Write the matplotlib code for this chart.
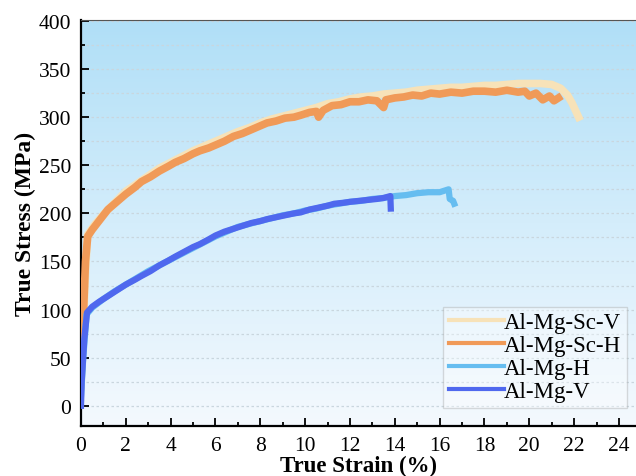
import numpy as np
import matplotlib
matplotlib.use("Agg")
import matplotlib.pyplot as plt
from matplotlib.colors import LinearSegmentedColormap
from matplotlib.ticker import MultipleLocator

# Al-Mg-Sc-V (drawn first, sits under the orange curve)
sc_v_strain = [0.0, 0.1, 0.2, 0.3, 0.6, 1.0, 1.5, 2.0, 2.5, 3.0, 3.5, 4.0, 4.5, 5.0, 5.5,
               6.0, 6.5, 7.0, 7.5, 8.0, 8.5, 9.0, 9.5, 10.0, 10.5, 11.0, 11.5, 12.0, 12.5,
               13.0, 13.5, 14.0, 14.5, 15.0, 15.5, 16.0, 16.5, 17.0, 17.5, 18.0, 18.5, 19.0,
               19.5, 20.0, 20.5, 21.0, 21.4, 21.7, 21.9, 22.1, 22.2]
sc_v_stress = [20, 80, 140, 178, 188, 199, 211, 223, 231, 239, 247, 253, 259, 265, 270,
               275, 280, 285, 289, 294, 298, 301, 304, 307, 310, 314, 316, 319, 321,
               322, 324, 325, 326, 328, 329, 330, 331, 331, 332, 333, 333, 334,
               335, 335, 335, 334, 330, 323, 315, 305, 300]

# Al-Mg-Sc-H
sc_h_strain = [0.0, 0.1, 0.2, 0.3, 0.5, 0.8, 1.2, 1.6, 2.0, 2.4, 2.7, 3.1, 3.5, 3.9, 4.2,
               4.6, 5.0, 5.3, 5.7, 6.0, 6.4, 6.8, 7.2, 7.6, 8.0, 8.3, 8.7, 9.1, 9.5, 9.8,
               10.2, 10.5, 10.6, 10.8, 11.2, 11.6, 12.0, 12.4, 12.8, 13.2, 13.5, 13.6, 14.0,
               14.4, 14.8, 15.2, 15.6, 16.0, 16.5, 17.0, 17.5, 18.0, 18.5, 19.0, 19.5, 19.8,
               20.0, 20.3, 20.6, 20.9, 21.1, 21.3]
sc_h_stress = [30, 90, 150, 176, 183, 192, 204, 212, 220, 227, 233, 238, 244, 249, 253,
               257, 262, 265, 268, 271, 275, 280, 283, 287, 291, 294, 296, 299, 300, 302,
               305, 306, 300, 307, 312, 313, 316, 316, 318, 317, 310, 318, 320,
               321, 323, 322, 325, 324, 326, 325, 327, 327, 326, 328, 326, 327,
               322, 325, 318, 322, 317, 320]

# Al-Mg-H
mg_h_strain = [0.0, 0.1, 0.25, 0.5, 1.0, 1.5, 2.0, 2.5, 3.0, 3.5, 4.0, 4.5, 5.0, 5.5, 6.0,
               6.5, 7.0, 7.5, 8.0, 8.5, 9.0, 9.5, 10.0, 10.5, 11.0, 11.5, 12.0, 12.5, 13.0,
               13.5, 14.0, 14.5, 15.0, 15.5, 16.0, 16.4, 16.45, 16.6, 16.65]
mg_h_stress = [10, 50, 95, 102, 111, 119, 126, 133, 140, 146, 152, 158, 164, 170, 176,
               181, 186, 189, 192, 195, 198, 200, 203, 205, 208, 210, 212, 213, 215,
               216, 218, 219, 221, 222, 222, 225, 215, 213, 210]

# Al-Mg-V
mg_v_strain = [0.0, 0.03, 0.15, 0.27, 0.5, 0.8, 1.2, 1.6, 2.0, 2.4, 2.7, 3.1, 3.5, 3.9, 4.2,
               4.6, 5.0, 5.3, 5.7, 6.0, 6.4, 6.8, 7.2, 7.6, 8.0, 8.3, 8.7, 9.1, 9.5, 9.8,
               10.2, 10.6, 11.0, 11.3, 11.7, 12.0, 12.4, 12.8, 13.2, 13.5, 13.8, 13.82]
mg_v_stress = [0, 25, 70, 97, 103, 108, 114, 120, 126, 131, 135, 140, 146, 151, 155,
               160, 165, 168, 173, 177, 181, 184, 187, 190, 192, 194, 196, 198, 200, 201,
               204, 206, 208, 210, 211, 212, 213, 214, 215, 216, 218, 205]

plt.rcParams['font.family'] = ['Liberation Serif', 'DejaVu Serif']

fig = plt.figure(figsize=(6.36, 4.77), dpi=100)
ax = fig.add_axes([81 / 636, 50 / 477, 555 / 636, 406 / 477])

# gradient background: light blue at top fading to near white
grad = LinearSegmentedColormap.from_list("bg", ["#f4f9fe", "#d4edfb", "#b0dff7"])
ax.imshow(np.linspace(0, 1, 256).reshape(-1, 1), cmap=grad, origin="lower",
          aspect="auto", extent=[0, 1, 0, 1], transform=ax.transAxes, zorder=0)

ax.plot(sc_v_strain, sc_v_stress, color="#f7e2b8", lw=5.5, label="Al-Mg-Sc-V", zorder=2)
ax.plot(sc_h_strain, sc_h_stress, color="#f09a58", lw=5.5, label="Al-Mg-Sc-H", zorder=3)
ax.plot(mg_h_strain, mg_h_stress, color="#66bdf0", lw=4.5, label="Al-Mg-H", zorder=4)
ax.plot(mg_v_strain, mg_v_stress, color="#4f68ee", lw=4.5, label="Al-Mg-V", zorder=5)

ax.set_xlim(0, 24.76)
ax.set_ylim(-21, 401)
ax.xaxis.set_major_locator(MultipleLocator(2))
ax.xaxis.set_minor_locator(MultipleLocator(1))
ax.yaxis.set_major_locator(MultipleLocator(50))
ax.yaxis.set_minor_locator(MultipleLocator(25))
ax.tick_params(which="both", direction="in", labelsize=15.5, width=1.3)
ax.tick_params(which="major", length=6)
ax.tick_params(which="minor", length=3)
ax.tick_params(axis="y", pad=7)
ax.tick_params(axis="x", pad=7)

ax.grid(True, which="both", axis="y", color="#c9d6de", ls=(0, (2, 2)), lw=0.9, zorder=1)

for s in ["left", "bottom"]:
    ax.spines[s].set_linewidth(1.6)
ax.spines["top"].set_color("#555555")
ax.spines["right"].set_visible(False)

ax.set_xlabel("True Strain (%)", fontsize=16.5, fontweight="bold", labelpad=0)
ax.set_ylabel("True Stress (MPa)", fontsize=17, fontweight="bold", labelpad=2)

leg = ax.legend(loc="lower right", bbox_to_anchor=(0.983, 0.045), fontsize=16.5,
                frameon=True, fancybox=False, edgecolor="#9a9a9a", framealpha=0.35,
                handlelength=2.4, handletextpad=0.0, labelspacing=0.08,
                borderpad=0.25, borderaxespad=0.0)
for line in leg.get_lines():
    line.set_linewidth(3)

fig.savefig("out.png", dpi=100)
